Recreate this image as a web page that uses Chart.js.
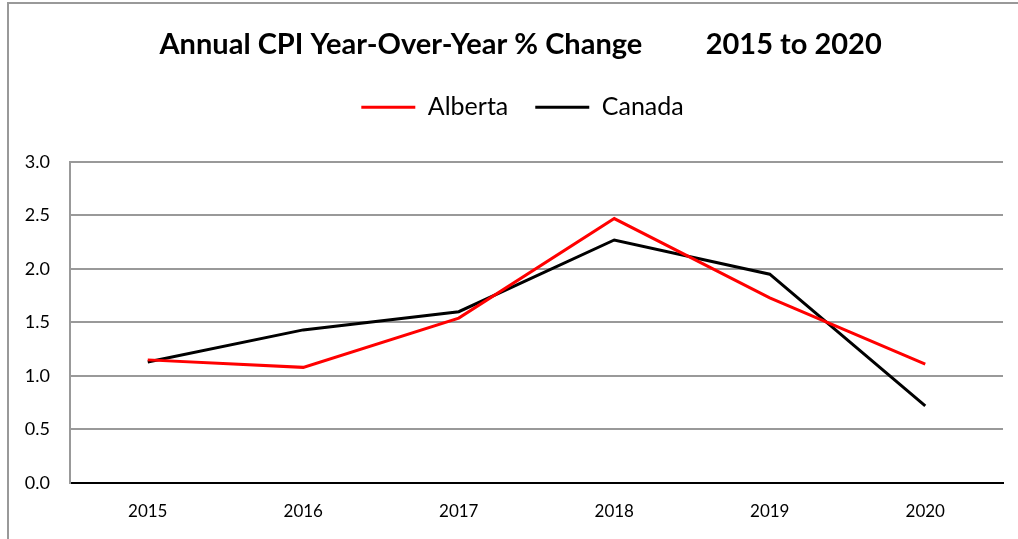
<!DOCTYPE html>
<html>
<head>
<meta charset="utf-8">
<script src="https://cdn.jsdelivr.net/npm/chart.js@4"></script>
<style>
  html, body { margin: 0; padding: 0; background: #fff; }
  #wrap { position: relative; width: 1018px; height: 539px; }
  #frame { position: absolute; left: 7px; top: 2px; width: 1020px; height: 560px;
           border-left: 2px solid #999; border-top: 2px solid #999; box-sizing: border-box; }
  canvas { position: absolute; left: 0; top: 0; }
</style>
</head>
<body>
<div id="wrap">
  <div id="frame"></div>
  <canvas id="cpiChart" width="1018" height="539"></canvas>
</div>
<script>
// datos del grafico
const years = ["2015", "2016", "2017", "2018", "2019", "2020"];
const alberta = [1.15, 1.08, 1.54, 2.47, 1.73, 1.11];
const canada = [1.13, 1.43, 1.60, 2.27, 1.95, 0.72];
const yTicks = [0, 0.5, 1.0, 1.5, 2.0, 2.5, 3.0];

const fontFamily = "Lato, 'Open Sans', sans-serif";

// espacio extra debajo de la leyenda y leyenda un poco a la derecha
const legendGap = {
  id: "legendGap",
  beforeInit(chart) {
    const fit = chart.legend.fit;
    chart.legend.fit = function () {
      fit.bind(chart.legend)();
      this.height += 32;
    };
    const draw = chart.legend.draw;
    chart.legend.draw = function () {
      this.ctx.save();
      this.ctx.translate(16, 0);
      draw.call(this);
      this.ctx.restore();
    };
  },
};

const chrt = document.getElementById("cpiChart").getContext("2d");
new Chart(chrt, {
  type: "line",
  data: {
    labels: years,
    datasets: [
      {
        label: "Alberta",
        data: alberta,
        borderColor: "#ff0000",
        backgroundColor: "#ff0000",
        borderWidth: 3,
        pointRadius: 0,
        tension: 0,
      },
      {
        label: "Canada",
        data: canada,
        borderColor: "#000000",
        backgroundColor: "#000000",
        borderWidth: 3,
        pointRadius: 0,
        tension: 0,
      },
    ],
  },
  options: {
    responsive: false,
    animation: false,
    layout: {
      padding: { left: 10, right: 15, top: 0, bottom: 0 },
    },
    plugins: {
      title: {
        display: true,
        text: "    Annual CPI Year-Over-Year % Change         2015 to 2020",
        color: "#000",
        font: { family: fontFamily, size: 29, weight: "bold" },
        padding: { top: 27, bottom: 6 },
      },
      legend: {
        position: "top",
        labels: {
          usePointStyle: true,
          pointStyle: "line",
          pointStyleWidth: 54,
          color: "#000",
          font: { family: fontFamily, size: 25 },
          padding: 27,
        },
      },
      tooltip: { enabled: false },
    },
    scales: {
      x: {
        offset: true,
        grid: { display: false, drawTicks: false },
        border: { display: true, color: "#000", width: 2 },
        ticks: {
          color: "#000",
          font: { family: fontFamily, size: 17 },
          padding: 18,
        },
        afterFit: (scale) => {
          scale.height = 56;
        },
      },
      y: {
        min: 0,
        max: 3,
        afterBuildTicks: (scale) => {
          scale.ticks = yTicks.map((v) => ({ value: v }));
        },
        grid: {
          drawTicks: false,
          color: (ctx) => (ctx.tick && ctx.tick.value === 0 ? "rgba(0,0,0,0)" : "#999"),
          lineWidth: 2,
        },
        border: { display: true, color: "#999", width: 2 },
        ticks: {
          color: "#000",
          font: { family: fontFamily, size: 18 },
          padding: 20,
          callback: (v) => Number(v).toFixed(1),
        },
        afterFit: (scale) => {
          scale.width = 60;
        },
      },
    },
  },
  plugins: [legendGap],
});
</script>
</body>
</html>
